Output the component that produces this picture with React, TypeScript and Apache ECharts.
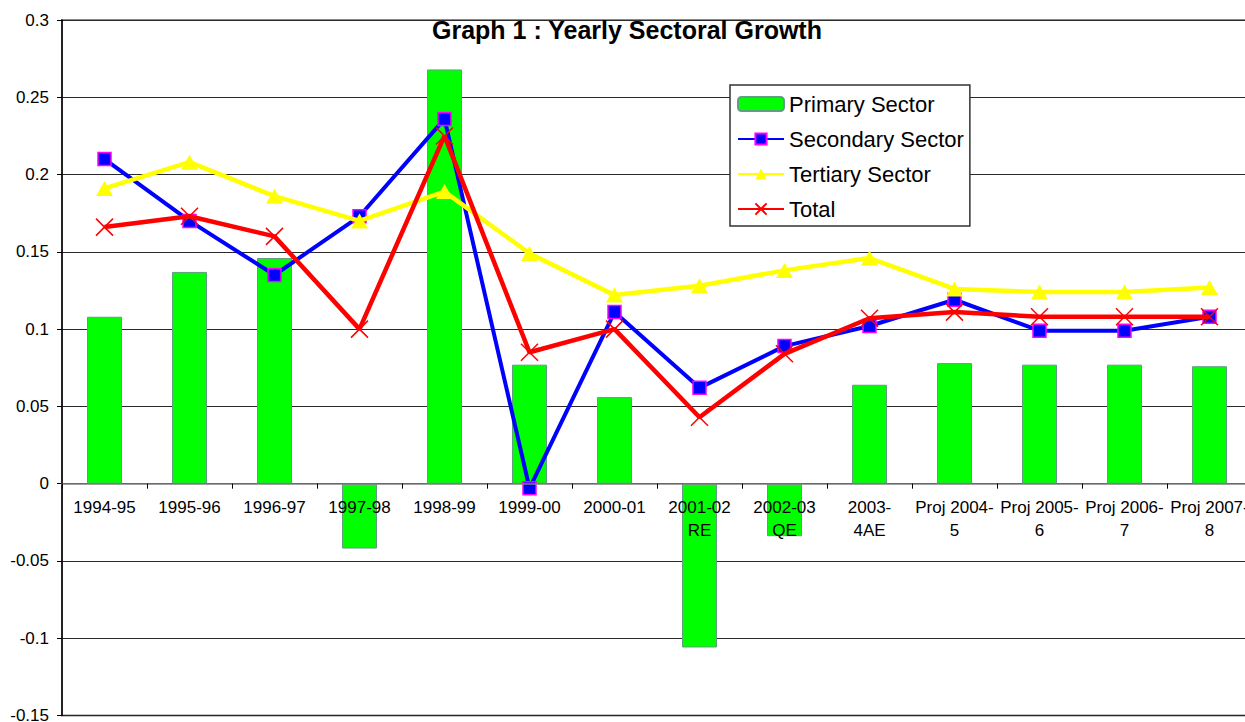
import React, { useEffect, useRef } from "react";
import * as echarts from "echarts";

const categories = [
  "1994-95",
  "1995-96",
  "1996-97",
  "1997-98",
  "1998-99",
  "1999-00",
  "2000-01",
  "2001-02\nRE",
  "2002-03\nQE",
  "2003-\n4AE",
  "Proj 2004-\n5",
  "Proj 2005-\n6",
  "Proj 2006-\n7",
  "Proj 2007-\n8",
];

const primary = [0.108, 0.137, 0.146, -0.042, 0.268, 0.077, 0.056, -0.106, -0.034, 0.064, 0.078, 0.077, 0.077, 0.076];
const secondary = [0.21, 0.17, 0.135, 0.173, 0.236, -0.003, 0.111, 0.062, 0.089, 0.102, 0.119, 0.099, 0.099, 0.108];
const tertiary = [0.191, 0.208, 0.186, 0.17, 0.189, 0.149, 0.122, 0.128, 0.138, 0.146, 0.126, 0.124, 0.124, 0.127];
const total = [0.166, 0.173, 0.16, 0.1, 0.225, 0.085, 0.1, 0.043, 0.084, 0.107, 0.111, 0.108, 0.108, 0.108];

const yMin = -0.15;
const yMax = 0.3;
const yStep = 0.05;

const FONT = "'Liberation Sans', Arial, sans-serif";
const X_SYMBOL = "path://M0,0L10,10M10,0L0,10";

const CHART_W = 1260;
const CHART_H = 722;
const GRID_TOP = 20;
const GRID_BOTTOM = 6.5;

export default function App() {
  const ref = useRef<HTMLDivElement>(null);

  useEffect(() => {
    if (!ref.current) return;
    const chart = echarts.init(ref.current, undefined, { renderer: "svg" });
    const plotH = CHART_H - GRID_TOP - GRID_BOTTOM;
    const zeroFromBottom = (0 - yMin) / (yMax - yMin) * plotH;
    chart.setOption({
      animation: false,
      backgroundColor: "#ffffff",
      textStyle: { fontFamily: FONT },
      title: {
        text: "Graph 1 : Yearly Sectoral Growth",
        left: 432,
        top: 17,
        padding: 0,
        textStyle: { fontFamily: FONT, fontSize: 25, fontWeight: "bold", color: "#000" },
      },
      legend: {
        orient: "vertical",
        left: 730,
        top: 85,
        padding: [7, 6, 5, 7],
        itemGap: 11,
        itemWidth: 46,
        itemHeight: 14,
        backgroundColor: "#ffffff",
        borderColor: "#333333",
        borderWidth: 1.5,
        textStyle: { fontFamily: FONT, fontSize: 22, color: "#000", lineHeight: 24 },
        data: ["Primary Sector", "Secondary Sector", "Tertiary Sector", "Total"],
        z: 20,
      },
      grid: {
        left: 62,
        right: 8,
        top: GRID_TOP,
        bottom: GRID_BOTTOM,
        containLabel: false,
        outerBoundsMode: "none",
        show: true,
        borderColor: "#8a8a8a",
        borderWidth: 2,
        backgroundColor: "transparent",
      },
      xAxis: {
        type: "category",
        data: categories,
        boundaryGap: true,
        position: "bottom",
        offset: -zeroFromBottom,
        z: 10,
        axisLine: { show: true, onZero: false, lineStyle: { color: "#808080", width: 1.5 } },
        axisTick: { show: true, inside: false, length: 5, lineStyle: { color: "#000", width: 1 } },
        axisLabel: {
          interval: 0,
          margin: 12,
          fontFamily: FONT,
          fontSize: 17,
          lineHeight: 23.5,
          color: "#000",
          hideOverlap: false,
        },
        splitLine: { show: false },
      },
      yAxis: {
        type: "value",
        min: yMin,
        max: yMax,
        interval: yStep,
        axisLine: { show: true, lineStyle: { color: "#000", width: 1.5 } },
        axisTick: { show: true, inside: false, length: 5, lineStyle: { color: "#000", width: 1 } },
        axisLabel: {
          margin: 13,
          fontFamily: FONT,
          fontSize: 17,
          color: "#000",
          formatter: (v: number) => String(parseFloat(v.toFixed(2))),
        },
        splitLine: { show: true, lineStyle: { color: "#2a2a2a", width: 1 } },
      },
      series: [
        {
          name: "Primary Sector",
          type: "bar",
          data: primary,
          barWidth: 35,
          itemStyle: { color: "#00ff00", borderColor: "#5f9f80", borderWidth: 1 },
          emphasis: { disabled: true },
          z: 2,
        },
        {
          name: "Secondary Sector",
          type: "line",
          data: secondary,
          symbol: "rect",
          symbolSize: 13,
          showAllSymbol: true,
          lineStyle: { color: "#0000ff", width: 4 },
          itemStyle: { color: "#0000ff", borderColor: "#ff00ff", borderWidth: 1.5 },
          emphasis: { disabled: true },
          z: 3,
        },
        {
          name: "Tertiary Sector",
          type: "line",
          data: tertiary,
          symbol: "triangle",
          symbolSize: [17, 15],
          showAllSymbol: true,
          lineStyle: { color: "#ffff00", width: 4.5 },
          itemStyle: { color: "#ffff00", borderColor: "#ffff00", borderWidth: 0 },
          emphasis: { disabled: true },
          z: 4,
        },
        {
          name: "Total",
          type: "line",
          data: total,
          symbol: X_SYMBOL,
          symbolSize: 17,
          showAllSymbol: true,
          lineStyle: { color: "#ff0000", width: 4.5 },
          itemStyle: { color: "#ff0000", borderColor: "#ff0000", borderWidth: 1.5 },
          emphasis: { disabled: true },
          z: 5,
        },
      ],
    });
    return () => {
      chart.dispose();
    };
  }, []);

  return (
    <div
      style={{
        position: "fixed",
        left: 0,
        top: 0,
        width: 1245,
        height: 722,
        overflow: "hidden",
        background: "#fff",
      }}
    >
      <div ref={ref} style={{ width: CHART_W, height: CHART_H }} />
    </div>
  );
}
